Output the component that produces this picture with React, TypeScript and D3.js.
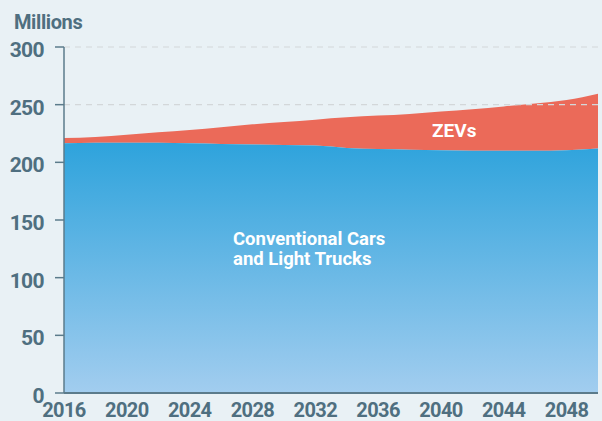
import * as d3 from "d3";
import { useEffect, useRef } from "react";

// years, every two years
const years = [2016, 2018, 2020, 2022, 2024, 2026, 2028, 2030, 2032, 2034, 2036, 2038, 2040, 2042, 2044, 2046, 2048, 2050];
// conventional cars and light trucks (millions)
const conventional = [216.5, 217, 217, 217, 216.5, 216, 215.5, 215, 214.5, 212.5, 211.5, 211, 210.5, 210, 210, 210, 210.5, 212];
// ZEVs (millions), stacked on top
const zevs = [4.5, 5, 7, 9, 11.5, 14.5, 17.5, 20, 22.5, 26.5, 29, 31, 33.5, 36, 38.5, 41, 43.5, 47.5];

const yTicks = [0, 50, 100, 150, 200, 250, 300];
const xTicks = [2016, 2020, 2024, 2028, 2032, 2036, 2040, 2044, 2048];

const FONT = "'Roboto', sans-serif";
const TEXT = "#4f6f80";
const AXIS = "#5b7b8b";

const Chart = ({ width = 602, height = 421 }) => {
  const svgRef = useRef<SVGSVGElement | null>(null);

  useEffect(() => {
    if (!svgRef.current) return;
    const svg = d3.select(svgRef.current);
    svg.selectAll("*").remove();

    const x = d3.scaleLinear().domain([2016, 2050]).range([64, 598]);
    const y = d3.scaleLinear().domain([0, 300]).range([393, 47]);

    svg.attr("width", width).attr("height", height);

    svg.append("rect").attr("width", width).attr("height", height).attr("fill", "#e9f1f5");

    const defs = svg.append("defs");
    const grad = defs
      .append("linearGradient")
      .attr("id", "convGrad")
      .attr("gradientUnits", "userSpaceOnUse")
      .attr("x1", 0).attr("x2", 0)
      .attr("y1", y(217)).attr("y2", y(0));
    grad.append("stop").attr("offset", "0%").attr("stop-color", "#2ea3dc");
    grad.append("stop").attr("offset", "100%").attr("stop-color", "#a2cdef");

    const rows = years.map((yr, i) => ({ year: yr, conv: conventional[i], zev: zevs[i] }));

    const areaConv = d3
      .area<(typeof rows)[number]>()
      .x((d) => x(d.year))
      .y0(y(0))
      .y1((d) => y(d.conv))
      .curve(d3.curveMonotoneX);

    const areaZev = d3
      .area<(typeof rows)[number]>()
      .x((d) => x(d.year))
      .y0((d) => y(d.conv))
      .y1((d) => y(d.conv + d.zev))
      .curve(d3.curveMonotoneX);

    svg.append("path").datum(rows).attr("fill", "#eb6a59").attr("d", areaZev);
    svg.append("path").datum(rows).attr("fill", "url(#convGrad)").attr("d", areaConv);

    // dashed grid at 250 and 300
    svg
      .selectAll(".grid")
      .data([250, 300])
      .join("line")
      .attr("x1", 64)
      .attr("x2", 598)
      .attr("y1", (d) => y(d))
      .attr("y2", (d) => y(d))
      .attr("stroke", "#d3d7d9")
      .attr("stroke-width", 1.2)
      .attr("stroke-dasharray", "6,5");

    // axes
    svg.append("line").attr("x1", 64).attr("x2", 64).attr("y1", y(300)).attr("y2", y(0))
      .attr("stroke", AXIS).attr("stroke-width", 1.5);
    svg.append("line").attr("x1", 64).attr("x2", 598).attr("y1", y(0)).attr("y2", y(0))
      .attr("stroke", AXIS).attr("stroke-width", 2);

    svg
      .selectAll(".ytick")
      .data(yTicks)
      .join("line")
      .attr("x1", 55)
      .attr("x2", 64)
      .attr("y1", (d) => y(d))
      .attr("y2", (d) => y(d))
      .attr("stroke", AXIS)
      .attr("stroke-width", 1.5);

    svg
      .selectAll(".ylab")
      .data(yTicks)
      .join("text")
      .attr("x", 44)
      .attr("y", (d) => y(d) + 10)
      .attr("text-anchor", "end")
      .attr("font-family", FONT)
      .attr("font-weight", "bold")
      .attr("font-size", 21)
      .attr("letter-spacing", -0.6)
      .attr("fill", TEXT)
      .text((d) => d);

    svg
      .selectAll(".xlab")
      .data(xTicks)
      .join("text")
      .attr("x", (d) => x(d))
      .attr("y", 417)
      .attr("text-anchor", "middle")
      .attr("font-family", FONT)
      .attr("font-weight", "bold")
      .attr("font-size", 20)
      .attr("letter-spacing", -0.6)
      .attr("fill", TEXT)
      .text((d) => d);

    svg.append("text")
      .attr("x", 14).attr("y", 29)
      .attr("font-family", FONT).attr("font-weight", "bold").attr("font-size", 20)
      .attr("letter-spacing", -0.4)
      .attr("fill", TEXT).text("Millions");

    svg.append("text")
      .attr("x", 432).attr("y", 137)
      .attr("font-family", FONT).attr("font-weight", "bold").attr("font-size", 19)
      .attr("fill", "#ffffff").text("ZEVs");

    const conv = svg.append("text")
      .attr("font-family", FONT).attr("font-weight", "bold").attr("font-size", 18.5)
      .attr("fill", "#ffffff");
    conv.append("tspan").attr("x", 233).attr("y", 245).text("Conventional Cars");
    conv.append("tspan").attr("x", 233).attr("y", 265).text("and Light Trucks");
  }, [width, height]);

  return <svg ref={svgRef} style={{ position: "absolute", left: 0, top: 0, display: "block" }}></svg>;
};

export default function App() {
  return <Chart />;
}
